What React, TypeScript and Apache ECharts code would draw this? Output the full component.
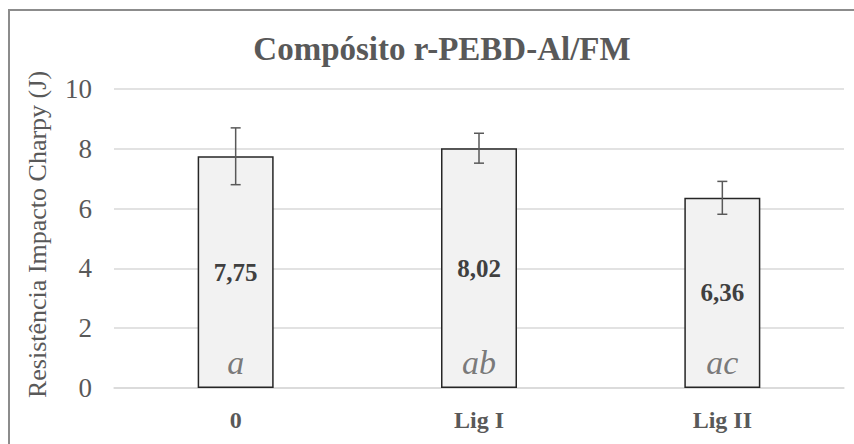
import React, { useEffect, useRef } from 'react';
import * as echarts from 'echarts';

const categories = ['0', 'Lig I', 'Lig II'];
const values = [7.75, 8.02, 6.36];
const errors = [0.95, 0.5, 0.55];
const groupLetters = ['a', 'ab', 'ac'];
const yTicks = [0, 2, 4, 6, 8, 10];
const titleText = 'Compósito r-PEBD-Al/FM';
const yAxisName = 'Resistência Impacto Charpy (J)';

export default function App() {
  const ref = useRef<HTMLDivElement>(null);
  useEffect(() => {
    const chart = echarts.init(ref.current as HTMLDivElement, null, { renderer: 'svg' });
    const font = 'Liberation Serif';
    chart.setOption({
      animation: false,
      grid: { left: 114, right: 10, top: 89, bottom: 56 },
      title: {
        text: titleText,
        left: 437,
        textAlign: 'center',
        top: 27,
        textStyle: { fontSize: 33, fontWeight: 'bold', fontFamily: font, color: '#595959' },
      },
      graphic: [
        {
          type: 'rect',
          silent: true,
          z: -1,
          shape: { x: 9, y: 10, width: 900, height: 500 },
          style: { fill: 'none', stroke: '#8c8c8c', lineWidth: 2 },
        },
      ],
      xAxis: {
        type: 'category',
        data: categories,
        axisLine: { show: true, lineStyle: { color: '#d9d9d9', width: 1.5 } },
        axisTick: { show: false },
        axisLabel: {
          margin: 20,
          fontSize: 24,
          fontWeight: 'bold',
          fontFamily: font,
          color: '#595959',
        },
      },
      yAxis: {
        type: 'value',
        min: yTicks[0],
        max: yTicks[yTicks.length - 1],
        interval: yTicks[1] - yTicks[0],
        name: yAxisName,
        nameLocation: 'middle',
        nameRotate: 90,
        nameGap: 64,
        nameTextStyle: { fontSize: 26, fontFamily: font, color: '#595959', padding: [0, 0, 0, 8] },
        axisLine: { show: false },
        axisTick: { show: false },
        axisLabel: { margin: 22, fontSize: 27, fontFamily: font, color: '#595959' },
        splitLine: { lineStyle: { color: '#d9d9d9', width: 1.5 } },
      },
      series: [
        {
          type: 'bar',
          data: values,
          barWidth: 76,
          itemStyle: { color: '#f2f2f2', borderColor: '#262626', borderWidth: 1.5 },
          label: {
            show: true,
            position: 'inside',
            formatter: (p: any) => values[p.dataIndex].toFixed(2).replace('.', ','),
            fontSize: 25,
            fontWeight: 'bold',
            fontFamily: font,
            color: '#404040',
          },
          z: 2,
        },
        {
          type: 'scatter',
          data: categories.map((_, i) => [i, 0]),
          symbolSize: 0,
          silent: true,
          label: {
            show: true,
            position: 'inside',
            offset: [0, -26],
            formatter: (p: any) => groupLetters[p.dataIndex],
            fontSize: 34,
            fontStyle: 'italic',
            fontFamily: font,
            color: '#595959',
          },
          z: 4,
        },
        {
          type: 'custom',
          data: categories.map((_, i) => [i, values[i] - errors[i], values[i] + errors[i]]),
          encode: { x: 0, y: [1, 2] },
          z: 5,
          renderItem: (params: any, api: any) => {
            const x = api.value(0);
            const pLo = api.coord([x, api.value(1)]);
            const pHi = api.coord([x, api.value(2)]);
            const hw = 5;
            const style = { stroke: '#595959', lineWidth: 1.5 };
            return {
              type: 'group',
              children: [
                { type: 'line', shape: { x1: pHi[0], y1: pHi[1], x2: pLo[0], y2: pLo[1] }, style },
                { type: 'line', shape: { x1: pHi[0] - hw, y1: pHi[1], x2: pHi[0] + hw, y2: pHi[1] }, style },
                { type: 'line', shape: { x1: pLo[0] - hw, y1: pLo[1], x2: pLo[0] + hw, y2: pLo[1] }, style },
              ],
            };
          },
        },
      ],
    });
    return () => chart.dispose();
  }, []);
  return <div ref={ref} style={{ position: 'absolute', left: 0, top: 0, width: 854, height: 444, background: '#ffffff' }} />;
}
